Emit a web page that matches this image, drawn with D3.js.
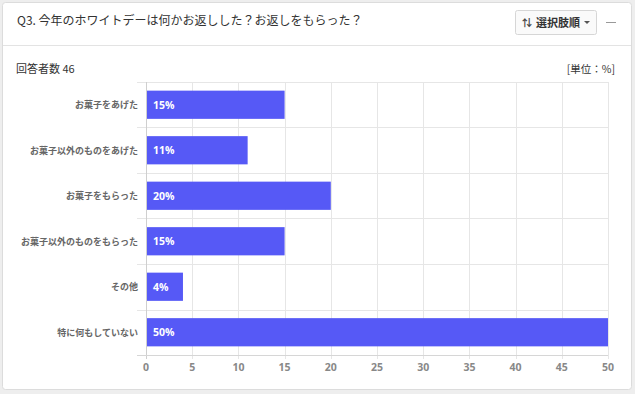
<!DOCTYPE html>
<html><head><meta charset="utf-8">
<script src="https://cdn.jsdelivr.net/npm/d3@7"></script>
<style>
html,body{margin:0;padding:0;background:#eeeeee;}
svg{display:block;}
</style></head>
<body>
<svg id="chart" width="635" height="394"></svg>
<script>
const categories = ["お菓子をあげた","お菓子以外のものをあげた","お菓子をもらった","お菓子以外のものをもらった","その他","特に何もしていない"];
const values = [15, 11, 20, 15, 4, 50];
const xTicks = [0,5,10,15,20,25,30,35,40,45,50];
const title = "Q3. 今年のホワイトデーは何かお返しした？お返しをもらった？";
const respondents = "回答者数 46";
const unitLabel = "[単位：%]";
const sortLabel = "選択肢順";

const font = "'Noto Sans CJK JP','Noto Sans',sans-serif";
const svg = d3.select("#chart");
svg.append("rect").attr("x",0).attr("y",0).attr("width",635).attr("height",394).attr("fill","#eeeeee");
// card
svg.append("rect").attr("x",2.5).attr("y",2.5).attr("width",629).attr("height",387).attr("rx",3)
  .attr("fill","#fff").attr("stroke","#dcdcdc");
svg.append("line").attr("x1",3).attr("x2",631).attr("y1",45.5).attr("y2",45.5).attr("stroke","#e3e3e3");

svg.append("text").attr("x",17).attr("y",25).attr("font-family",font).attr("font-size",12)
  .attr("fill","#333").text(title);

// button
svg.append("rect").attr("x",515.5).attr("y",10.5).attr("width",81).attr("height",24).attr("rx",2)
  .attr("fill","#fafafa").attr("stroke","#d6d6d6");
svg.append("text").attr("x",522).attr("y",27).attr("font-family",font).attr("font-size",10).attr("font-weight","bold")
  .attr("fill","#444").text("⇅");
svg.append("text").attr("x",536).attr("y",27).attr("font-family",font).attr("font-size",11).attr("font-weight","bold")
  .attr("fill","#333").text(sortLabel);
svg.append("path").attr("d","M584,21 L590,21 L587,24 Z").attr("fill","#555");
svg.append("line").attr("x1",606).attr("x2",616).attr("y1",22.5).attr("y2",22.5).attr("stroke","#999");

svg.append("text").attr("x",16).attr("y",73).attr("font-family",font).attr("font-size",11)
  .attr("fill","#333").text(respondents);
svg.append("text").attr("x",615).attr("y",73).attr("text-anchor","end").attr("font-family",font).attr("font-size",10.5)
  .attr("fill","#333").text(unitLabel);

const m = {left:146, right:608, top:82, bottom:355};
const x = d3.scaleLinear().domain([0,50]).range([m.left,m.right]);
const y = d3.scaleBand().domain(categories).range([m.top,m.bottom]).paddingInner(0.38).paddingOuter(0.19);

const g = svg.append("g");
// vertical grid
g.selectAll(".vg").data(xTicks).enter().append("line")
  .attr("x1",d=>Math.round(x(d))+0.5).attr("x2",d=>Math.round(x(d))+0.5)
  .attr("y1",m.top).attr("y2",m.bottom+4).attr("stroke","#e6e6e6");
// horizontal grid at band boundaries
const bounds = categories.map(c=>y(c)-y.step()*y.paddingInner()/2);
bounds.push(m.bottom);
bounds[0]=m.top;
g.selectAll(".hg").data(bounds).enter().append("line")
  .attr("x1",m.left-9).attr("x2",m.right).attr("y1",d=>Math.round(d)+0.5).attr("y2",d=>Math.round(d)+0.5)
  .attr("stroke","#e6e6e6");
// axis lines
g.append("line").attr("x1",m.left+0.5).attr("x2",m.left+0.5).attr("y1",m.top).attr("y2",m.bottom+4).attr("stroke","#cfcfcf");
g.append("line").attr("x1",m.left-9).attr("x2",m.right).attr("y1",m.bottom+0.5).attr("y2",m.bottom+0.5).attr("stroke","#d6d6d6");

// bars
g.selectAll(".bar").data(values).enter().append("rect")
  .attr("x",x(0)+1).attr("y",(d,i)=>y(categories[i]))
  .attr("width",d=>x(d)-x(0)-1).attr("height",y.bandwidth())
  .attr("fill","#5659f6");
g.selectAll(".bl").data(values).enter().append("text")
  .attr("x",x(0)+7).attr("y",(d,i)=>y(categories[i])+y.bandwidth()/2+4)
  .attr("font-family","'Open Sans','DejaVu Sans',sans-serif").attr("font-size",10.5).attr("font-weight","bold")
  .attr("fill","#fff").text(d=>d+"%");

// y labels
g.selectAll(".yl").data(categories).enter().append("text")
  .attr("x",m.left-8).attr("y",c=>y(c)+y.bandwidth()/2+3.5)
  .attr("text-anchor","end").attr("font-family",font).attr("font-size",9).attr("font-weight","bold")
  .attr("fill","#666").text(c=>c);

// x tick labels
g.selectAll(".xl").data(xTicks).enter().append("text")
  .attr("x",d=>x(d)).attr("y",371).attr("text-anchor","middle")
  .attr("font-family","'Open Sans','DejaVu Sans',sans-serif").attr("font-size",10.5).attr("font-weight","bold")
  .attr("fill","#888").text(d=>d);
</script>
</body></html>
